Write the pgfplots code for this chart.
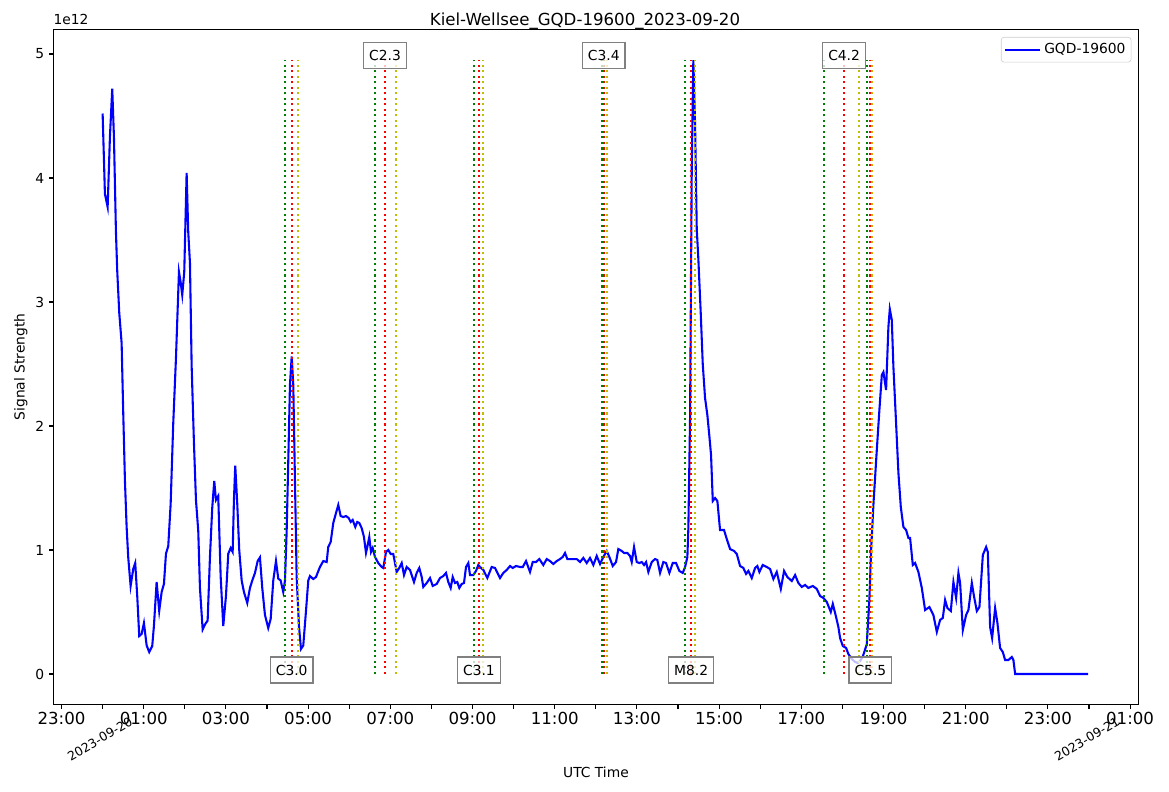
\documentclass[border=0pt]{standalone}
\usepackage{pgfplots}
\pgfplotsset{compat=1.18}
\usepackage{fontspec}
\setmainfont{DejaVu Sans}
\definecolor{mplgreen}{RGB}{0,128,0}
\definecolor{mplred}{RGB}{255,0,0}
\definecolor{mplyellow}{RGB}{191,191,0}
\definecolor{mplblue}{RGB}{0,0,255}
\newcommand{\ften}{\fontsize{10}{12}\selectfont}
\newcommand{\ftwelve}{\fontsize{12}{14.4}\selectfont}
\tikzset{
  vl/.style={line width=1.5bp, dash pattern=on 1.5bp off 2.475bp},
  lbl/.style={draw=gray, line width=1bp, fill=white, fill opacity=0.75, text opacity=1, inner xsep=4bp, inner ysep=0pt, minimum height=18.7bp, font=\ften, text=black},
}
\begin{document}
\begin{tikzpicture}
\useasboundingbox (0,0) rectangle (841.68bp,570.24bp);
\begin{axis}[
  at={(38.38bp,62.86bp)}, anchor=south west,
  scale only axis, width=781.2bp, height=486.14bp,
  xmin=-1.2, xmax=25.2, ymin=-0.2475, ymax=5.1975,
  clip mode=individual,
  axis line style={line width=0.8bp},
  every tick/.style={line width=0.8bp, black},
  tick align=outside, major tick length=3bp, minor tick length=3bp,
  xtick={-1,1,3,5,7,9,11,13,15,17,19,21,23,25},
  xticklabels={23:00,01:00,03:00,05:00,07:00,09:00,11:00,13:00,15:00,17:00,19:00,21:00,23:00,01:00},
  minor xtick={0,2,4,6,8,10,12,14,16,18,20,22,24},
  ytick={0,1,2,3,4,5},
  scaled y ticks=false,
  /pgf/number format/assume math mode=true,
  xticklabel style={font=\ftwelve, yshift=1bp},
  yticklabel style={font=\ften},
  xtick pos=bottom, ytick pos=left,
  legend style={at={(rel axis cs:1,1)}, anchor=north east, xshift=-5bp, yshift=-5.4bp,
    draw=black!20, rounded corners=2bp, font=\ften, inner xsep=2bp, inner ysep=2.5bp},
  legend image code/.code={\draw[#1] (0bp,0bp) -- (20bp,0bp); \path (0bp,0bp) -- (25.5bp,0bp);},
]
\addplot[mplblue, line width=1.5bp] coordinates {
(0.000,4.520) (0.056,3.871) (0.122,3.766) (0.178,4.335) (0.234,4.720) (0.275,4.335) (0.324,3.565) (0.355,3.254)
(0.404,2.915) (0.462,2.670) (0.501,2.113) (0.543,1.557) (0.584,1.186) (0.623,0.940) (0.681,0.710) (0.745,0.847)
(0.793,0.895) (0.842,0.629) (0.891,0.306) (0.949,0.323) (1.005,0.411) (1.071,0.230) (1.134,0.177) (1.207,0.226)
(1.248,0.387) (1.314,0.742) (1.377,0.508) (1.436,0.661) (1.492,0.726) (1.541,0.970) (1.597,1.032) (1.655,1.371)
(1.718,2.019) (1.784,2.544) (1.857,3.242) (1.898,3.161) (1.937,3.057) (1.986,3.242) (2.044,4.041) (2.083,3.565)
(2.125,3.315) (2.166,2.484) (2.222,1.863) (2.271,1.403) (2.327,1.153) (2.368,0.694) (2.434,0.359) (2.490,0.399)
(2.555,0.431) (2.611,0.940) (2.667,1.340) (2.716,1.557) (2.757,1.403) (2.813,1.436) (2.872,0.786) (2.935,0.387)
(3.001,0.629) (3.057,0.970) (3.115,1.016) (3.164,0.984) (3.195,1.403) (3.227,1.680) (3.276,1.371) (3.324,1.000)
(3.383,0.754) (3.439,0.661) (3.519,0.573) (3.585,0.694) (3.641,0.754) (3.707,0.815) (3.772,0.911) (3.828,0.940)
(3.884,0.694) (3.950,0.476) (4.030,0.371) (4.089,0.444) (4.152,0.754) (4.218,0.911) (4.274,0.769) (4.332,0.754)
(4.395,0.661) (4.437,0.754) (4.478,1.153) (4.527,1.863) (4.558,2.331) (4.600,2.560) (4.639,2.331) (4.680,1.557)
(4.721,0.786) (4.777,0.387) (4.826,0.202) (4.882,0.230) (4.948,0.508) (5.004,0.754)
(5.045,0.790) (5.125,0.766) (5.191,0.782) (5.288,0.863) (5.369,0.911) (5.451,0.903) (5.490,1.024) (5.549,1.065)
(5.612,1.218) (5.678,1.298) (5.734,1.363) (5.792,1.274) (5.855,1.266) (5.921,1.274) (5.987,1.258) (6.036,1.226)
(6.084,1.242) (6.148,1.186) (6.196,1.226) (6.245,1.218) (6.303,1.177) (6.359,1.105) (6.408,0.976) (6.440,1.024)
(6.488,1.105) (6.530,0.984) (6.571,1.016) (6.627,0.944) (6.707,0.895) (6.790,0.863) (6.829,0.855) (6.895,0.984)
(6.951,1.000) (7.009,0.968) (7.072,0.968) (7.155,0.823) (7.218,0.855) (7.277,0.895) (7.333,0.798) (7.398,0.863)
(7.479,0.839) (7.520,0.798) (7.576,0.742) (7.642,0.815) (7.705,0.855) (7.764,0.782) (7.802,0.702) (7.885,0.734)
(7.966,0.774) (8.031,0.710) (8.129,0.726) (8.209,0.774) (8.289,0.790) (8.355,0.815) (8.411,0.742) (8.469,0.694)
(8.518,0.782) (8.574,0.734) (8.630,0.742) (8.679,0.694) (8.737,0.726) (8.793,0.734) (8.842,0.863) (8.898,0.895)
(8.939,0.798) (9.019,0.798) (9.085,0.831) (9.141,0.879)
(9.182,0.863) (9.263,0.839) (9.360,0.774) (9.467,0.863) (9.548,0.855) (9.669,0.774) (9.749,0.815) (9.832,0.839)
(9.913,0.871) (9.978,0.855) (10.058,0.871) (10.156,0.863) (10.222,0.863) (10.302,0.911) (10.399,0.823) (10.465,0.903)
(10.545,0.903) (10.626,0.927) (10.723,0.879) (10.806,0.927) (10.886,0.911) (10.966,0.887) (11.049,0.911) (11.129,0.927)
(11.195,0.944) (11.251,0.976) (11.307,0.927) (11.414,0.927) (11.536,0.927) (11.616,0.903) (11.696,0.936) (11.779,0.895)
(11.859,0.936) (11.940,0.879) (12.022,0.952) (12.103,0.887) (12.183,0.944) (12.266,0.992) (12.329,0.944) (12.412,0.871)
(12.492,0.903) (12.548,1.008) (12.631,0.992) (12.687,0.976) (12.767,0.976) (12.833,0.952) (12.874,0.903) (12.930,1.024)
(12.996,0.903) (13.059,0.895) (13.118,0.903) (13.174,0.879) (13.223,0.903) (13.279,0.823) (13.361,0.903) (13.441,0.927)
(13.497,0.919) (13.563,0.815) (13.643,0.903) (13.709,0.895) (13.789,0.815) (13.872,0.895) (13.952,0.895) (14.033,0.831)
(14.115,0.815) (14.172,0.863) (14.228,0.944) (14.252,1.177) (14.293,2.057) (14.335,4.097) (14.373,4.950) (14.415,4.436)
(14.456,3.589) (14.495,3.347) (14.554,2.903) (14.602,2.500) (14.658,2.226) (14.714,2.089) (14.763,1.919) (14.804,1.766)
(14.846,1.395) (14.902,1.419) (14.958,1.395) (15.023,1.161) (15.120,1.161) (15.186,1.089) (15.267,1.008) (15.364,0.992)
(15.430,0.968) (15.510,0.871) (15.590,0.855) (15.656,0.807) (15.712,0.831) (15.795,0.774) (15.875,0.855) (15.931,0.871)
(15.980,0.823) (16.062,0.879) (16.160,0.863) (16.240,0.847) (16.321,0.766) (16.403,0.823) (16.501,0.686) (16.581,0.831)
(16.661,0.782) (16.768,0.750) (16.849,0.798) (16.929,0.734) (17.012,0.702) (17.092,0.718) (17.172,0.694) (17.279,0.710)
(17.377,0.686) (17.457,0.629) (17.537,0.613) (17.620,0.581) (17.717,0.500) (17.766,0.565) (17.846,0.460) (17.902,0.379)
(17.944,0.290) (18.009,0.226) (18.090,0.210) (18.146,0.161) (18.229,0.121) (18.309,0.097) (18.375,0.089) (18.430,0.105)
(18.496,0.140) (18.593,0.240) (18.656,0.597) (18.698,0.995) (18.754,1.363) (18.837,1.807) (18.900,2.129) (18.959,2.411)
(18.998,2.435) (19.063,2.290) (19.119,2.798) (19.153,2.943) (19.202,2.855) (19.241,2.476) (19.306,2.024) (19.363,1.621)
(19.421,1.347) (19.484,1.186) (19.550,1.161) (19.606,1.097) (19.647,1.097) (19.713,0.879) (19.769,0.895) (19.849,0.823)
(19.932,0.694) (20.012,0.516) (20.117,0.540) (20.214,0.476) (20.297,0.339) (20.377,0.436) (20.443,0.452) (20.499,0.597)
(20.555,0.532) (20.638,0.508) (20.701,0.742) (20.767,0.613) (20.823,0.815) (20.864,0.734) (20.930,0.355) (21.010,0.476)
(21.066,0.516) (21.149,0.734) (21.205,0.621) (21.271,0.508) (21.334,0.540) (21.417,0.960) (21.497,1.024) (21.538,0.984)
(21.594,0.379) (21.643,0.290) (21.716,0.532) (21.772,0.411) (21.837,0.210) (21.903,0.177) (21.959,0.113) (22.039,0.113)
(22.122,0.137) (22.161,0.113) (22.203,0.000) (23.980,0.000)
};
\addlegendentry{GQD-19600}
% flare markers: start (green), peak (red), end (yellow)
\addplot[vl, mplgreen, forget plot] coordinates {(4.437,0) (4.437,4.95)};
\addplot[vl, mplred, forget plot] coordinates {(4.600,0) (4.600,4.95)};
\addplot[vl, mplyellow, forget plot] coordinates {(4.753,0) (4.753,4.95)};
\addplot[vl, mplgreen, forget plot] coordinates {(6.627,0) (6.627,4.95)};
\addplot[vl, mplred, forget plot] coordinates {(6.870,0) (6.870,4.95)};
\addplot[vl, mplyellow, forget plot] coordinates {(7.138,0) (7.138,4.95)};
\addplot[vl, mplgreen, forget plot] coordinates {(9.036,0) (9.036,4.95)};
\addplot[vl, mplred, forget plot] coordinates {(9.157,0) (9.157,4.95)};
\addplot[vl, mplyellow, forget plot] coordinates {(9.255,0) (9.255,4.95)};
\addplot[vl, mplgreen, forget plot] coordinates {(12.159,0) (12.159,4.95)};
\addplot[vl, mplred, forget plot] coordinates {(12.193,0) (12.193,4.95)};
\addplot[vl, mplyellow, forget plot] coordinates {(12.266,0) (12.266,4.95)};
\addplot[vl, mplgreen, forget plot] coordinates {(14.172,0) (14.172,4.95)};
\addplot[vl, mplred, forget plot] coordinates {(14.318,0) (14.318,4.95)};
\addplot[vl, mplyellow, forget plot] coordinates {(14.415,0) (14.415,4.95)};
\addplot[vl, mplgreen, forget plot] coordinates {(17.554,0) (17.554,4.95)};
\addplot[vl, mplred, forget plot] coordinates {(18.041,0) (18.041,4.95)};
\addplot[vl, mplyellow, forget plot] coordinates {(18.406,0) (18.406,4.95)};
\addplot[vl, mplgreen, forget plot] coordinates {(18.593,0) (18.593,4.95)};
\addplot[vl, mplred, forget plot] coordinates {(18.681,0) (18.681,4.95)};
\addplot[vl, mplyellow, forget plot] coordinates {(18.723,0) (18.723,4.95)};
% flare class labels
\node[lbl] at (axis cs:4.600,0.032) {C3.0};
\node[lbl] at (axis cs:6.870,4.99) {C2.3};
\node[lbl] at (axis cs:9.157,0.032) {C3.1};
\node[lbl] at (axis cs:12.193,4.99) {C3.4};
\node[lbl] at (axis cs:14.318,0.032) {M8.2};
\node[lbl] at (axis cs:18.041,4.99) {C4.2};
\node[lbl] at (axis cs:18.681,0.032) {C5.5};
% date labels and offset
\node[rotate=30, font=\fontsize{9}{11}\selectfont] at (axis cs:-0.066,-0.524) {2023-09-20};
\node[rotate=30, font=\fontsize{9}{11}\selectfont] at (axis cs:23.95,-0.524) {2023-09-21};
\node[anchor=south west, inner sep=0pt, font=\ften] at (rel axis cs:0,1) [yshift=3.2bp] {1e12};
\end{axis}
\node[anchor=base, font=\ftwelve] at (421.2bp,551.7bp) {Kiel-Wellsee\_GQD-19600\_2023-09-20};
\node[anchor=base, font=\ften] at (429.1bp,10.1bp) {UTC Time};
\node[rotate=90, font=\ften] at (14.9bp,306bp) {Signal Strength};
\end{tikzpicture}
\end{document}
